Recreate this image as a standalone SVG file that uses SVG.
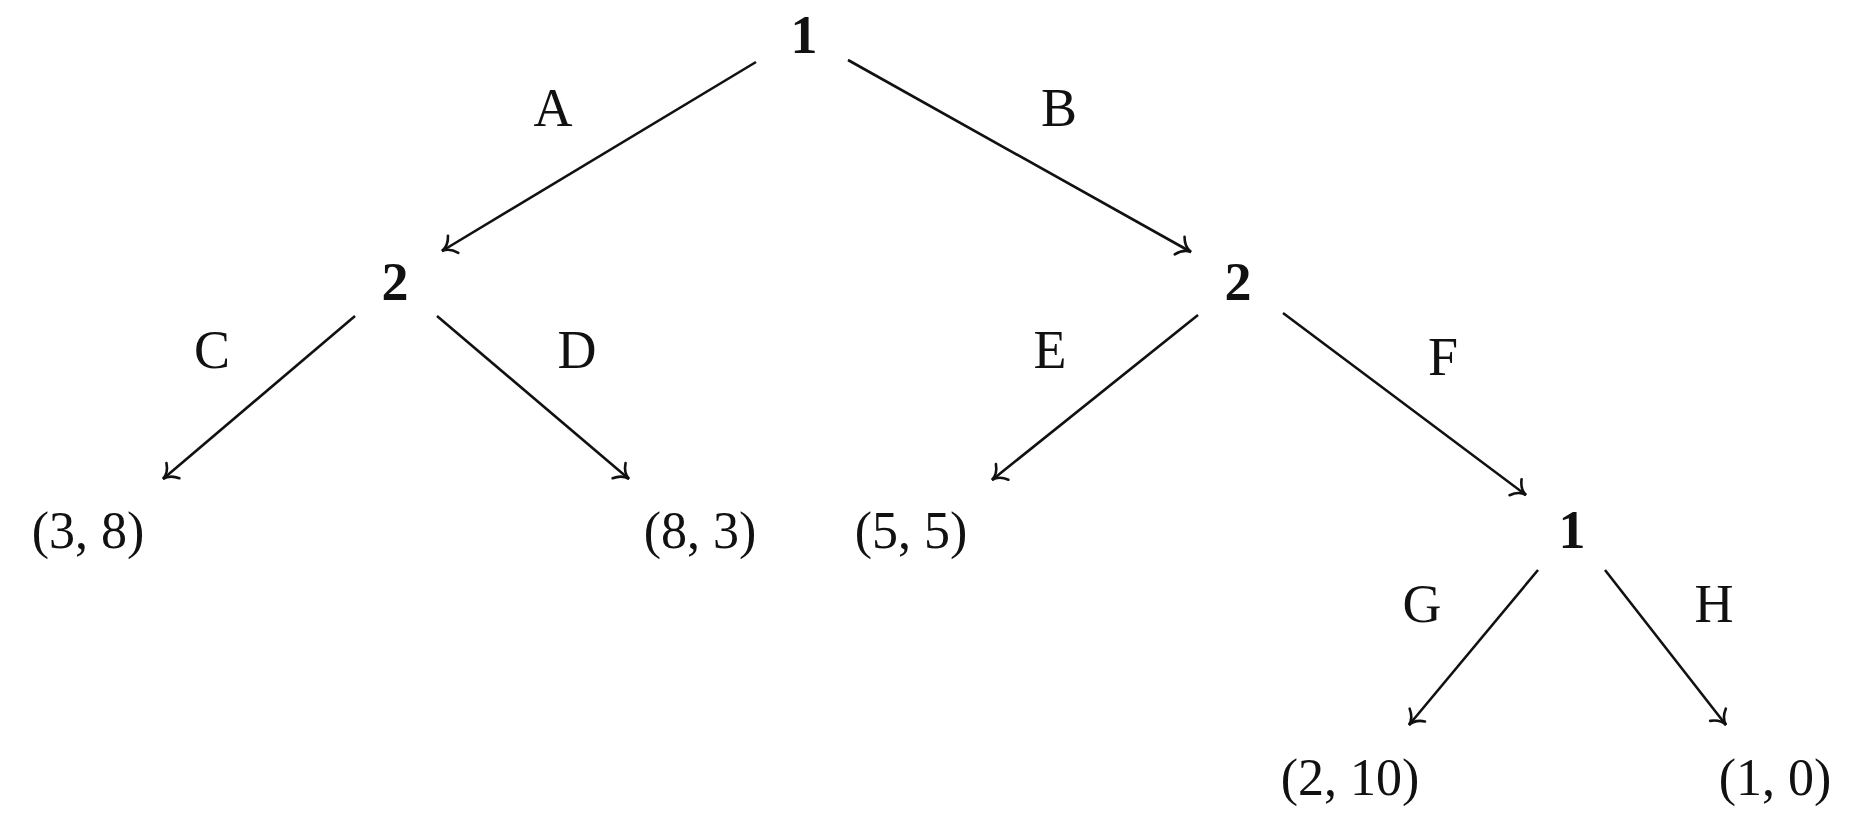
<svg xmlns="http://www.w3.org/2000/svg" width="1862" height="822" viewBox="0 0 1862 822">
<style>
  text { font-family: "Liberation Serif", "Times New Roman", serif; fill: #111; text-anchor: middle; }
  .player { font-weight: bold; font-size: 54px; }
  .label { font-size: 54px; }
  .payoff { font-size: 52px; }
  .edge { stroke: #111; stroke-width: 2.6; fill: none; marker-end: url(#to); }
</style>
<defs>
  <marker id="to" markerUnits="userSpaceOnUse" viewBox="-16 -13 19 26" markerWidth="19" markerHeight="26" refX="0" refY="0" orient="auto">
    <path d="M -13,-10 Q -8,-1 0,0 Q -8,1 -13,10" stroke="#111" stroke-width="2.6" fill="none" stroke-linecap="round"/>
  </marker>
</defs>
<rect width="1862" height="822" fill="#ffffff"/>
<g id="connectors">
  <line class="edge" x1="756" y1="62" x2="442" y2="251"/>
  <line class="edge" x1="848" y1="60" x2="1191" y2="252"/>
  <line class="edge" x1="355" y1="316" x2="163" y2="479"/>
  <line class="edge" x1="437" y1="316" x2="629" y2="479"/>
  <line class="edge" x1="1198" y1="315" x2="992" y2="480"/>
  <line class="edge" x1="1283" y1="313" x2="1526" y2="495"/>
  <line class="edge" x1="1538" y1="570" x2="1409" y2="725"/>
  <line class="edge" x1="1605" y1="570" x2="1726" y2="725"/>
</g>
<g id="edge-labels">
  <text class="label" x="553" y="126">A</text>
  <text class="label" x="1059" y="126">B</text>
  <text class="label" x="212" y="368">C</text>
  <text class="label" x="577" y="368">D</text>
  <text class="label" x="1050" y="368">E</text>
  <text class="label" x="1443" y="375">F</text>
  <text class="label" x="1422" y="622">G</text>
  <text class="label" x="1714" y="622">H</text>
</g>
<g id="node-root"><text class="player" x="804" y="53">1</text></g>
<g id="node-p2-left"><text class="player" x="395" y="300">2</text></g>
<g id="node-p2-right"><text class="player" x="1238" y="300">2</text></g>
<g id="node-p1-lower"><text class="player" x="1572" y="548">1</text></g>
<g id="leaf-3-8"><text class="payoff" x="88" y="548">(3, 8)</text></g>
<g id="leaf-8-3"><text class="payoff" x="700" y="548">(8, 3)</text></g>
<g id="leaf-5-5"><text class="payoff" x="911" y="548">(5, 5)</text></g>
<g id="leaf-2-10"><text class="payoff" x="1350" y="795">(2, 10)</text></g>
<g id="leaf-1-0"><text class="payoff" x="1775" y="795">(1, 0)</text></g>
</svg>
